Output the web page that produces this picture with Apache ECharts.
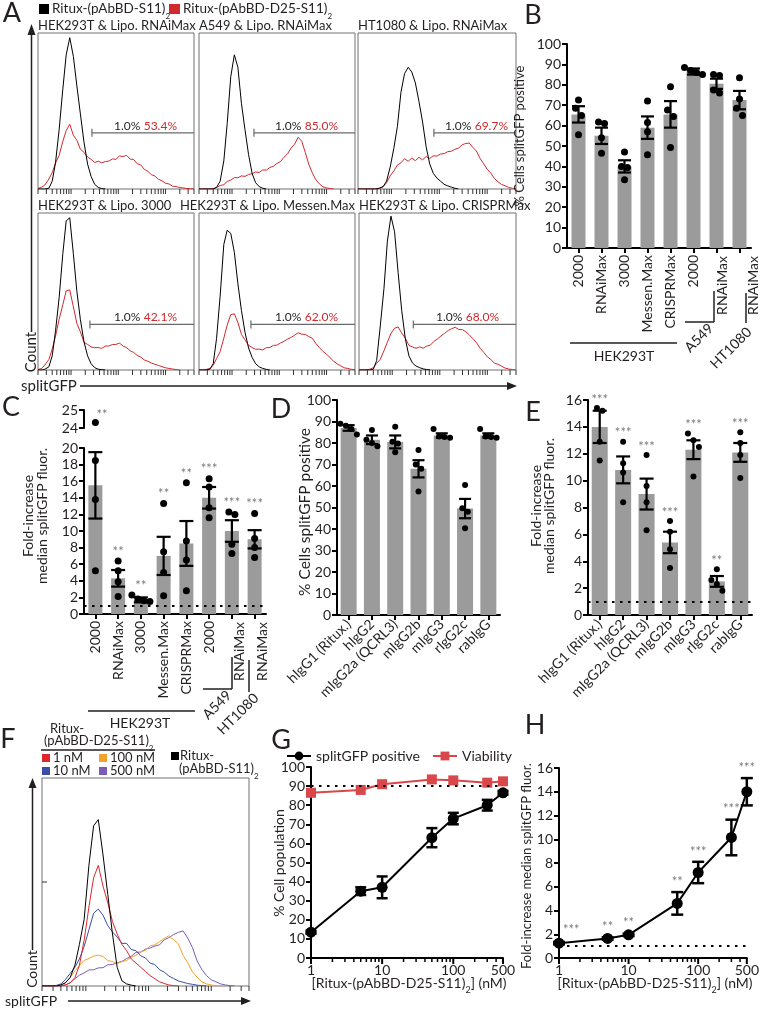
<!DOCTYPE html>
<html><head><meta charset="utf-8">
<script src="https://cdn.jsdelivr.net/npm/echarts@6/dist/echarts.min.js"></script>
<style>html,body{margin:0;padding:0;background:#fff}#c{width:762px;height:1009px}</style>
</head><body><div id="c"></div>
<script>
// ---------------- DATA ----------------
const HIST_X = [20,24,28,34,40,47,56,67,79,94,112,133,158,188,224,266,316,376,447,531,631,750,891,1060,1260,1500,1780,2110,2510,2990,3550,4220,5010,5960,7080,8410,10000,11900,14100,16800,20000,23700,28200,33500,39800];
const HIST_TICKS = [20,30,40,50,60,70,80,90,100,200,300,400,500,600,700,800,900,1000,2000,3000,4000,5000,6000,7000,8000,9000,10000,20000,30000,40000];

const A_TITLES = ['HEK293T & Lipo. RNAiMax','A549 & Lipo. RNAiMax','HT1080 & Lipo. RNAiMax','HEK293T & Lipo. 3000','HEK293T & Lipo. Messen.Max','HEK293T & Lipo. CRISPRMax'];
const A_BLACK_1 = [0,0,0,0.5,5,17,38,64,86,97,85,66,48,30,16,8,3,1,0.3,0];
const A_RED_1 = [0.3,1.2,2.6,6.4,10.5,16.6,21.5,30.5,37.5,41.5,34.5,31.2,25.5,23.5,20.5,19,17,17.8,16.8,17.6,17.9,19.3,19,21.2,20.8,21.6,19.2,18.9,16.2,15.4,12.6,11.3,9.2,8.3,6.2,5.3,3.7,3.2,1.8,1.6,0.9,0.7,0.3,0.2,0];
const A_BLACK_2 = [0,0,0,0,0,1,5,18,42,72,86,78,55,38,22,10,4,1.5,0.5,0];
const A_RED_2 = [0,0,0,0,0.3,1,2.2,2.8,4.8,5.7,7.3,7.2,8.4,8.1,9.3,9.8,10.9,10.6,12.2,12.1,13.8,14.6,16.4,17.6,20.4,22.6,26.3,28.7,33.2,30.6,23.4,15.7,10.3,5.8,3.2,1.4,0.7,0.3,0];
const A_BLACK_3 = [0,0,0,0,0,0,0.5,1.5,5,14,26,40,62,74,78,75,68,56,43,27,16,10,7,5,3,2,1.2,0.5,0];
const A_RED_3 = [0,0,0,0,0,0,0.5,1.5,4,8.4,11.6,15.3,16.8,19.4,17.8,19.8,18.2,20.3,18.7,20.8,19.6,21.3,21.1,22.4,22.7,23.9,24.2,25.4,26.2,28.3,29.2,29.4,26.7,24.3,19.7,16.2,12.7,10.2,6.8,4.6,2.9,2.1,1,0.5,0.2];
const A_BLACK_4 = [0,0,0.5,2,9,25,46,74,95,97,74,50,32,18,9,4,1.5,0.5,0.2,0];
const A_RED_4 = [0.3,1,3.2,6.7,13.4,21.6,32.3,41.6,50.4,51,40.3,29.6,24.3,17.6,16.3,14.7,14.2,14.3,13.8,15.2,15.3,16.2,16.3,17.1,15.3,14.2,12.3,11.2,9.3,8.2,6.4,5.6,4.4,3.6,2.9,2.1,1.4,1,0.6,0.3,0];
const A_BLACK_5 = [0,0,0,0.5,4,20,47,80,89,87,75,55,38,24,14,8,4,2,1,0.4,0];
const A_RED_5 = [0,0,0.3,1,3,7.2,11.7,20.3,28.6,35.3,35.8,30.3,22.7,19.2,15.7,14.3,13.2,13.3,12.8,14.2,14.3,15.7,15.8,17.2,18.3,19.7,20.8,22.2,23.7,22.8,22.7,21.3,20.2,16.8,14.2,11.8,10.1,7.8,5.6,3.9,2.6,1.4,1,0.4,0.2];
const A_BLACK_6 = [0,0,0,0,0.5,6,28,52,82,98,88,62,38,20,9,4.5,2.5,1.5,0.7,0.3,0];
const A_RED_6 = [0,0,0,0.5,1.5,4.2,6.8,12.3,17.7,23.3,26.6,27.4,23.6,20.3,15.7,14.7,13.8,14.7,13.9,15.2,15.8,18.2,19.8,21.7,23.3,25.2,26.3,27.2,25.8,25.7,24.3,22.2,19.8,17.2,13.8,11.2,8.4,6.6,4.4,3.6,2.4,1.2,0.6,0.3,0];
const A_GATE_X = [277,291,771,251,251,277];
const A_GATE_Y = [36,36,36,29,29,29];
const A_NEG = ['1.0%','1.0%','1.0%','1.0%','1.0%','1.0%'];
const A_POS = ['53.4%','85.0%','69.7%','42.1%','62.0%','68.0%'];

const B_CATS = ['2000','RNAiMax','3000','Messen.Max','CRISPRMax','2000','RNAiMax','RNAiMax'];
const B_MEAN = [65.5,55,40,59,65.5,86.5,80.5,72.5];
const B_SEM = [4,4,3,5.5,6.5,1.5,2.5,4.5];
const B_PTS = [[72.6,68.5,65,55.5],[61.8,61,54,46.5],[47,40,39.5,33.5],[72,61.5,57,45.7],[79,67.7,64.4,49.3],[88.5,87,86,85],[84.5,85,77.5,76],[83.5,73,68.5,65]];

const C_CATS = B_CATS;
const C_MEAN = [15.5,4.3,1.7,7.0,8.5,14,10,9];
const C_SEM = [4,1,0.3,2.3,2.7,1.3,1.3,1.1];
const C_PTS = [[24.3,18.5,13.8,5.2],[6.4,5.2,3.9,2.1],[2.3,1.8,1.6,1.5],[13.3,7.5,5.0,2.2],[15.8,8.8,6.5,2.8],[16.3,15.3,12.8,11.6],[12,12.3,8.4,7.3],[12.1,9.1,8,6.8]];
const C_SIG = ['**','**','**','**','**','***','***','***'];

const D_CATS = ['hIgG1 (Ritux.)','hIgG2','mIgG2a (QCRL3)','mIgG2b','mIgG3','rIgG2c','rabIgG'];
const D_MEAN = [87,81.5,80.5,68,83.5,49.5,83.5];
const D_SEM = [1.3,2,3,4,1,4.5,1];
const D_PTS = [[89,88,86.5,84],[86,81.5,80,78.5],[87.6,80.6,79.8,75.7],[76.7,70,68,57.4],[86.5,83,82.8,82.5],[60.5,49.6,48,40.3],[86.5,83,82.8,82.5]];

const E_CATS = D_CATS;
const E_MEAN = [14,10.8,9,5.4,12.3,2.5,12.1];
const E_SEM = [1.2,1,1.15,0.8,0.7,0.4,0.7];
const E_PTS = [[15.4,15.2,12.9,11.5],[12.9,11.3,10.6,8.4],[11.9,9.6,8.4,6.3],[7.0,6.2,4.9,3.5],[13.5,13.0,12.5,10.3],[3.4,2.6,2.3,1.8],[13.6,12.8,11.9,10.2]];
const E_SIG = ['***','***','***','***','***','**','***'];

const F_BLACK = [0,0,0,0,0.5,1.5,4,10,20,32,58,77,80,63,44,25,9,2.5,1,0.4,0];
const F_RED = [0,0,0,0,0,0.5,1.5,4,10,22,38,52,58,48,40,31,25,20,17,13,11,9,7,5,3.5,2,1.2,0.5,0.2,0];
const F_BLUE = [0,0,0,0.3,1,3,6,9,13,19,27,35,37,34,29,26,23.5,20.5,20.5,17.5,17,14.5,13.5,11,10.3,7.8,6.7,4.8,3.6,2.4,1.8,1.2,0.8,0.4,0.2,0];
const F_ORANGE = [0,0,0,0,0.5,1.5,4,7.3,9.8,12.3,13.2,14.4,14.8,14.2,12.2,11.8,10.8,11.7,12.3,13.8,14.8,16.3,17.2,19.3,19.8,21.3,22.8,24.2,22.3,20.2,14.8,11.2,6.8,4.2,2,1,0.5,0.2,0];
const F_PURPLE = [0,0,0,0,0,0.5,1.5,3.5,5.2,6.3,7.7,7.8,8.7,8.8,10.2,10.3,11.2,11.8,13.2,14.3,16.2,16.3,17.7,18.3,19.2,19.8,22.2,23.3,24.7,25.8,26.5,23,18.5,12,8,5,3,2,1,0.5,0.2,0];
const F_LEGEND = ['1 nM','10 nM','100 nM','500 nM'];

const G_X = [1,5,10,50,100,300,500];
const G_POS = [13.5,35,37,63,73,80,86.5];
const G_POS_SEM = [0.8,2,5.7,5,3,2.8,1];
const G_VIA = [86.5,88,91,93.5,93,91.8,92.5];
const G_TICKS_MAJOR = [1,10,100,500];
const G_TICKS_MINOR = [2,3,4,5,6,7,8,9,20,30,40,50,60,70,80,90,200,300,400];

const H_Y = [1.25,1.65,1.95,4.6,7.2,10.15,14];
const H_SEM = [0.1,0.1,0.1,0.95,0.9,1.5,1.15];
const H_SIG = ['***','**','**','**','***','***','***'];

// ---------------- STYLE / LAYOUT ----------------
const FONT = 'Lato';
const INK = '#231f20';
const RED = '#d2292d';
const GRAY_BAR = '#9b9b9b';
const FCOL = {red:'#e0262b', blue:'#3a4ea5', orange:'#f2a22a', purple:'#7c5cb6'};
const A_FRAMES = [[38,33,156,156],[199,33,156,156],[358,33,158,156],[38,213,156,157],[199,213,156,157],[359,213,157,157]];

const grids = [], xAxes = [], yAxes = [], series = [], graphics = [], tickJobs = [];
const chart = echarts.init(document.getElementById('c'));

function addGrid(l,t,w,h,extra){ grids.push(Object.assign({left:l,top:t,width:w,height:h,containLabel:false},extra||{})); return grids.length-1; }
function catCenter(g,n,i){ return grids[g].left + (i+0.5)*grids[g].width/n; }

function txt(x,y,text,o){ o=o||{}; graphics.push({type:'text',x,y,rotation:o.rot||0,silent:true,z:100,
  style:{text,fill:o.fill||INK,fontSize:o.size||14,fontFamily:FONT,align:o.align||'left',verticalAlign:o.va||'middle',lineHeight:o.lh,rich:o.rich}}); }
function ln(x1,y1,x2,y2,w,c){ graphics.push({type:'line',silent:true,z:100,shape:{x1,y1,x2,y2},style:{stroke:c||INK,lineWidth:w||1.5}}); }
function rc(x,y,w,h,c){ graphics.push({type:'rect',silent:true,z:100,shape:{x,y,width:w,height:h},style:{fill:c}}); }
function tri(p,c){ graphics.push({type:'polygon',silent:true,z:100,shape:{points:p},style:{fill:c||INK}}); }
const SUB_RICH = (size)=>({a:{fontSize:size,fontFamily:FONT,fill:INK,lineHeight:size+3},s:{fontSize:Math.round(size*0.62),fontFamily:FONT,fill:INK,verticalAlign:'bottom',lineHeight:size+3,padding:[0,0,-3,0]}});

function custom(xi,yi,data,renderItem,z){
  series.push({type:'custom',xAxisIndex:xi,yAxisIndex:yi,silent:true,clip:false,z:z||5,data,encode:{x:0,y:1},renderItem});
}
function vTickSeries(xi,yi,xv,vals,dx,w,color){
  custom(xi,yi,vals.map(v=>[xv,v]),(p,api)=>{ const c=api.coord([api.value(0),api.value(1)]);
    return {type:'rect',shape:{x:c[0],y:c[1]-w/2,width:dx,height:w},style:{fill:color}}; },9);
}

// ---------------- PANEL A ----------------
const A_BLACK = [A_BLACK_1,A_BLACK_2,A_BLACK_3,A_BLACK_4,A_BLACK_5,A_BLACK_6];
const A_RED = [A_RED_1,A_RED_2,A_RED_3,A_RED_4,A_RED_5,A_RED_6];
function histAxes(g){
  xAxes.push({gridIndex:g,type:'log',min:20,max:40000,position:'bottom',axisLine:{show:false},axisTick:{show:false},axisLabel:{show:false},splitLine:{show:false}});
  yAxes.push({gridIndex:g,type:'value',min:0,max:100,axisLine:{show:false},axisTick:{show:false},axisLabel:{show:false},splitLine:{show:false}});
  tickJobs.push({g,vals:HIST_TICKS,yv:0,len:5,w:1,color:'#333'});
}
function histLine(xi, yi, arr, color, z){
  series.push({type:'line',xAxisIndex:xi,yAxisIndex:yi,showSymbol:false,silent:true,z:z||2,
    data:arr.map((v,i)=>[HIST_X[i],v]),lineStyle:{color,width:1},itemStyle:{color}});
}
A_FRAMES.forEach((f,p)=>{
  const g = addGrid(f[0],f[1],f[2],f[3],{show:true,borderColor:'#707070',borderWidth:1});
  histAxes(g);
  const xi = xAxes.length-1, yi = yAxes.length-1;
  histLine(xi, yi, A_RED[p], RED, 2);
  histLine(xi, yi, A_BLACK[p], '#000', 3);
  custom(xi,yi,[[A_GATE_X[p],A_GATE_Y[p]]],(params,api)=>{
      const pt = api.coord([api.value(0),api.value(1)]);
      const cs = params.coordSys; const right = cs.x+cs.width;
      const tr = p===2 ? right-8 : right-17;
      return {type:'group',children:[
        {type:'line',shape:{x1:pt[0],y1:pt[1],x2:right,y2:pt[1]},style:{stroke:'#6a6a6a',lineWidth:1.2}},
        {type:'rect',shape:{x:pt[0]-0.6,y:pt[1]-4,width:1.2,height:8},style:{fill:'#6a6a6a'}},
        {type:'text',x:tr,y:pt[1]-1,style:{text:'{n|'+A_NEG[p]+'} {q|'+A_POS[p]+'}',align:'right',verticalAlign:'bottom',
          rich:{n:{fill:INK,fontSize:12,fontFamily:FONT},q:{fill:RED,fontSize:12,fontFamily:FONT}}}}
      ]};
    },4);
  if (p===4) txt(f[0]+f[2], f[1]-7, A_TITLES[p], {align:'right',size:13});
  else txt(f[0], f[1]-7, A_TITLES[p], {size:13});
});
rc(39,4,10,10,'#000');
txt(52,9,'{a|Ritux-(pAbBD-S11)}{s|2}',{rich:SUB_RICH(13.5)});
rc(169,4,11,10,RED);
txt(183,9,'{a|Ritux-(pAbBD-D25-S11)}{s|2}',{rich:SUB_RICH(13.5)});
ln(31.5,332,31.5,32,1.5); tri([[31.5,24],[27.5,35],[35.5,35]]);
txt(31,352,'Count',{rot:Math.PI/2,align:'center',size:15});
txt(21,386,'splitGFP',{size:15});
ln(80,386,508,386,1.5); tri([[517,386],[507,382],[507,390]]);

// ---------------- helpers ----------------
function dotData(pts, range, filter){
  const out = [];
  pts.forEach((arr,c)=>{
    const idx = arr.map((v,i)=>i).sort((a,b)=>arr[b]-arr[a]);
    const thr = range*0.035; const groups=[]; let cur=[idx[0]];
    for(let k=1;k<idx.length;k++){ if(arr[cur[cur.length-1]]-arr[idx[k]]<thr) cur.push(idx[k]); else {groups.push(cur);cur=[idx[k]];} }
    groups.push(cur);
    groups.forEach(gr=>gr.forEach((i,j)=>{ if(!filter||filter(arr[i])) out.push([c,arr[i],j-(gr.length-1)/2]); }));
  });
  return out;
}
function dotSeries(xi,yi,data,r,sp){
  custom(xi,yi,data,(params,api)=>{ const c=api.coord([api.value(0),api.value(1)]);
      return {type:'circle',shape:{cx:c[0]+api.value(2)*sp,cy:c[1],r},style:{fill:'#000'}}; },6);
}
function errSeries(xi,yi,xs,mean,sem,cap,lw){
  custom(xi,yi,mean.map((m,i)=>[xs[i],m,sem[i]]),(params,api)=>{ const x=api.value(0),m=api.value(1),s=api.value(2);
      const t=api.coord([x,m+s]), b=api.coord([x,m-s]); const st={stroke:'#000',lineWidth:lw};
      return {type:'group',children:[
        {type:'line',shape:{x1:t[0],y1:t[1],x2:b[0],y2:b[1]},style:st},
        {type:'line',shape:{x1:t[0]-cap,y1:t[1],x2:t[0]+cap,y2:t[1]},style:st},
        {type:'line',shape:{x1:b[0]-cap,y1:b[1],x2:b[0]+cap,y2:b[1]},style:st}]}; },5);
}
function starSeries(xi,yi,xs,ys,labels,dy,special){
  custom(xi,yi,ys.map((y,i)=>[xs[i],y]),(params,api)=>{ const c=api.coord([api.value(0),api.value(1)]); const i=params.dataIndex;
      let x=c[0], y=c[1]-dy, al='center';
      if(special && special[i]){ x+=special[i][0]; y+=special[i][1]; al='left'; }
      return {type:'text',x,y,style:{text:labels[i],align:al,verticalAlign:'bottom',fill:'#7a7a7a',fontSize:13,fontFamily:FONT}}; },7);
}
const axisLineStyle = {show:true,lineStyle:{color:'#000',width:2}};
const tickStyle = {show:true,length:5,lineStyle:{color:'#000',width:2}};
function catX(g,n,labels,rotate,hideFrom,extra){
  xAxes.push(Object.assign({gridIndex:g,type:'category',data:labels.map((_,i)=>'k'+i),boundaryGap:true,position:'bottom',
    axisLine:axisLineStyle,axisTick:Object.assign({alignWithLabel:true},tickStyle),
    axisLabel:{rotate,fontSize:14,color:INK,margin:7,interval:0,formatter:(v,i)=> (hideFrom!=null && i>=hideFrom)?'':labels[i]},splitLine:{show:false}},extra||{}));
  return xAxes.length-1;
}
function valY(g,min,max,interval,extra){
  yAxes.push(Object.assign({gridIndex:g,type:'value',min,max,interval,axisLine:axisLineStyle,axisTick:tickStyle,
    axisLabel:{fontSize:14,color:INK,margin:6},splitLine:{show:false}},extra||{}));
  return yAxes.length-1;
}
function barSeries(xi,yi,mean,bw,dotted){
  const s = {type:'bar',xAxisIndex:xi,yAxisIndex:yi,silent:true,data:mean,barWidth:bw,itemStyle:{color:GRAY_BAR},z:2};
  if(dotted!=null) s.markLine={silent:true,symbol:['none','none'],label:{show:false},lineStyle:{type:[2.5,5.5],width:2.2,color:'#000'},data:[{yAxis:dotted}]};
  series.push(s);
}
function topOf(pts,mean,sem){ return pts.map((a,i)=>Math.max(Math.max.apply(null,a),mean[i]+sem[i])); }

// ---------------- PANEL B ----------------
{
  const g = addGrid(567,44,184,204);
  const xi = catX(g,8,B_CATS,90,6); const yi = valY(g,0,100,10);
  barSeries(xi,yi,B_MEAN,14);
  errSeries(xi,yi,B_MEAN.map((_,i)=>i),B_MEAN,B_SEM,6.5,2.2);
  dotSeries(xi,yi,dotData(B_PTS,100),3.5,6);
  const ay = 248;
  [[6,6],[7,14]].forEach(([i,sh])=>txt(catCenter(g,8,i)+sh, ay+8, B_CATS[i], {rot:Math.PI/2,align:'right'}));
  ln(570,343,677,343,1.5); txt(624,356,'HEK293T',{align:'center'});
  ln(685,322,714,322,1.5); ln(714,291,714,322,1.5);
  txt(699,338,'A549',{rot:Math.PI/4,align:'center'});
  ln(746,293,746,323,1.5);
  txt(731,348,'HT1080',{rot:Math.PI/4,align:'center'});
  txt(520,136,'% Cells splitGFP positive',{rot:Math.PI/2,align:'center',size:13});
}
// ---------------- PANEL C ----------------
{
  const gu = addGrid(84,410,182,18);
  const xu = catX(gu,8,C_CATS,90,0,{show:false});
  const yu = valY(gu,24,25,1);
  const gl = addGrid(84,448,182,166);
  const xl = catX(gl,8,C_CATS,90,6); const yl = valY(gl,0,20,2);
  barSeries(xl,yl,C_MEAN,14,1);
  errSeries(xl,yl,C_MEAN.map((_,i)=>i),C_MEAN,C_SEM,7,2.2);
  dotSeries(xl,yl,dotData(C_PTS,20,v=>v<=20),3.5,6);
  dotSeries(xu,yu,dotData(C_PTS,20,v=>v>20),3.5,6);
  const tops = topOf(C_PTS,C_MEAN,C_SEM);
  const lowIdx = tops.map((t,i)=>i).filter(i=>tops[i]<=20), upIdx = tops.map((t,i)=>i).filter(i=>tops[i]>20);
  starSeries(xl,yl,lowIdx,lowIdx.map(i=>tops[i]),lowIdx.map(i=>C_SIG[i]),3);
  starSeries(xu,yu,upIdx,upIdx.map(i=>tops[i]),upIdx.map(i=>C_SIG[i]),0,upIdx.map(()=>[1,-1]));
  const ay = 614;
  [[6,8],[7,8]].forEach(([i,sh])=>txt(catCenter(gl,8,i)+sh, ay+8, C_CATS[i], {rot:Math.PI/2,align:'right'}));
  ln(88,711,195,711,1.5); txt(140,723,'HEK293T',{align:'center'});
  ln(203,689,232,689,1.5); ln(232,657,232,689,1.5);
  txt(217,705,'A549',{rot:Math.PI/4,align:'center'});
  ln(249,660,249,692,1.5);
  txt(238,714,'HT1080',{rot:Math.PI/4,align:'center'});
  txt(35,516,'Fold-increase\nmedian splitGFP fluor.',{rot:Math.PI/2,align:'center',lh:14});
}
// ---------------- PANEL D ----------------
{
  const g = addGrid(337,400,163,215);
  const xi = catX(g,7,D_CATS,45); const yi = valY(g,0,100,10);
  barSeries(xi,yi,D_MEAN,16);
  errSeries(xi,yi,D_MEAN.map((_,i)=>i),D_MEAN,D_SEM,6,2.2);
  dotSeries(xi,yi,dotData(D_PTS,100),3,5.5);
  txt(305,512,'% Cells splitGFP positive',{rot:Math.PI/2,align:'center',size:15.5});
}
// ---------------- PANEL E ----------------
{
  const g = addGrid(588,400,164,215);
  const xi = catX(g,7,E_CATS,45); const yi = valY(g,0,16,2);
  barSeries(xi,yi,E_MEAN,16,1);
  errSeries(xi,yi,E_MEAN.map((_,i)=>i),E_MEAN,E_SEM,7,2.2);
  dotSeries(xi,yi,dotData(E_PTS,16),3,5.5);
  const tops = topOf(E_PTS,E_MEAN,E_SEM);
  starSeries(xi,yi,tops.map((_,i)=>i),tops,E_SIG,2);
  txt(543,506,'Fold-increase\nmedian splitGFP fluor.',{rot:Math.PI/2,align:'center',lh:13});
}
// ---------------- PANEL F ----------------
{
  const g = addGrid(42,778,207,208,{show:true,borderColor:'#707070',borderWidth:1});
  histAxes(g);
  const xi = xAxes.length-1, yi = yAxes.length-1;
  vTickSeries(xi,yi,20,[50],5,1,'#333');
  histLine(xi,yi,F_PURPLE,FCOL.purple,2);
  histLine(xi,yi,F_ORANGE,FCOL.orange,2);
  histLine(xi,yi,F_BLUE,FCOL.blue,3);
  histLine(xi,yi,F_RED,FCOL.red,3);
  histLine(xi,yi,F_BLACK,'#000',4);
  txt(50,729,'Ritux-',{size:13});
  txt(44,741,'{a|(pAbBD-D25-S11)}{s|2}',{rich:SUB_RICH(13)});
  ln(41,750,155,750,1.5);
  rc(42,754,8,8,FCOL.red); txt(53,758,F_LEGEND[0],{size:13});
  rc(99,754,8,8,FCOL.orange); txt(110,758,F_LEGEND[2],{size:13});
  rc(42,767,8,8,FCOL.blue); txt(53,771,F_LEGEND[1],{size:13});
  rc(99,767,8,8,FCOL.purple); txt(110,771,F_LEGEND[3],{size:13});
  rc(171,752,8,8,'#000'); txt(180,756,'Ritux-',{size:13});
  txt(179,769,'{a|(pAbBD-S11)}{s|2}',{rich:SUB_RICH(13)});
  ln(32.5,950,32.5,786,1.5); tri([[32.5,778],[28.5,788],[36.5,788]]);
  txt(32,969,'Count',{rot:Math.PI/2,align:'center',size:14});
  txt(5,1001,'splitGFP',{size:14});
  ln(68,1001,242,1001,1.5); tri([[251,1001],[241,997],[241,1005]]);
}
// ---------------- PANEL G ----------------
function logX(g,min,max){
  xAxes.push({gridIndex:g,type:'log',min,max,position:'bottom',axisLine:axisLineStyle,axisTick:{show:false},
    axisLabel:{customValues:G_TICKS_MAJOR,fontSize:14,color:INK,margin:5},splitLine:{show:false}});
  tickJobs.push({g,vals:G_TICKS_MAJOR,yv:0,len:6,w:2,color:'#000'});
  tickJobs.push({g,vals:G_TICKS_MINOR,yv:0,len:4,w:1.5,color:'#000'});
  return xAxes.length-1;
}
{
  const g = addGrid(311,767,192,191);
  const xi = logX(g,1,500); const yi = valY(g,0,100,10);
  series.push({type:'line',name:'Viability',xAxisIndex:xi,yAxisIndex:yi,data:G_X.map((x,i)=>[x,G_VIA[i]]),symbol:'rect',symbolSize:10,
    lineStyle:{color:'#d9474b',width:2},itemStyle:{color:'#d9474b'},z:3,silent:true,
    markLine:{silent:true,symbol:['none','none'],label:{show:false},lineStyle:{type:[2.5,5.5],width:2.2,color:'#000'},data:[{yAxis:90}]}});
  errSeries(xi,yi,G_X,G_POS,G_POS_SEM,5.5,2.5);
  series.push({type:'line',name:'splitGFP positive',xAxisIndex:xi,yAxisIndex:yi,data:G_X.map((x,i)=>[x,G_POS[i]]),symbol:'circle',symbolSize:11,
    lineStyle:{color:'#000',width:2},itemStyle:{color:'#000'},z:6,silent:true});
  txt(279,863,'% Cell population',{rot:Math.PI/2,align:'center'});
  txt(409,983,'{a|[Ritux-(pAbBD-D25-S11)}{s|2}{a|] (nM)}',{align:'center',rich:SUB_RICH(14)});
}
// ---------------- PANEL H ----------------
{
  const g = addGrid(559,768,192,190);
  const xi = logX(g,1,500); const yi = valY(g,0,16,2);
  series.push({type:'line',name:'hfold',xAxisIndex:xi,yAxisIndex:yi,data:G_X.map((x,i)=>[x,H_Y[i]]),symbol:'circle',symbolSize:11,
    lineStyle:{color:'#000',width:2},itemStyle:{color:'#000'},z:6,silent:true,
    markLine:{silent:true,symbol:['none','none'],label:{show:false},lineStyle:{type:[2.5,5.5],width:2.2,color:'#000'},data:[{yAxis:1}]}});
  errSeries(xi,yi,G_X,H_Y,H_SEM,6,2.5);
  starSeries(xi,yi,G_X,H_Y.map((y,i)=>y+H_SEM[i]),H_SIG,4,[[4,-2]]);
  txt(527,866,'Fold-increase median splitGFP fluor.',{rot:Math.PI/2,align:'center',size:13});
  txt(655,983,'{a|[Ritux-(pAbBD-D25-S11)}{s|2}{a|] (nM)}',{align:'center',rich:SUB_RICH(14)});
}
[['A',12,13],['B',533,15],['C',11,407],['D',281,409],['E',533,412],['F',8,739],['G',281,740],['H',535,725]].forEach(([t,x,y])=>txt(x,y,t,{align:'center',size:27}));

chart.setOption({
  animation:false,
  backgroundColor:'#fff',
  textStyle:{fontFamily:FONT},
  grid:grids, xAxis:xAxes, yAxis:yAxes, series,
  legend:[{data:['splitGFP positive','Viability'],left:281,top:744,itemWidth:24,itemHeight:11,itemGap:12,
    textStyle:{fontSize:14,color:INK,fontFamily:FONT},selectedMode:false}],
  graphic:graphics
});

// tick marks placed through the library's own axis scales (convertToPixel)
try {
  const extra = [];
  tickJobs.forEach(job=>{
    job.vals.forEach(v=>{
      const p = chart.convertToPixel({gridIndex:job.g},[v,job.yv]);
      if (p && isFinite(p[0]) && isFinite(p[1])) {
        extra.push({type:'rect',silent:true,z:100,shape:{x:p[0]-job.w/2,y:p[1],width:job.w,height:job.len},style:{fill:job.color}});
      }
    });
  });
  if (extra.length) chart.setOption({graphic:graphics.concat(extra)});
} catch(e) {}
</script></body></html>
